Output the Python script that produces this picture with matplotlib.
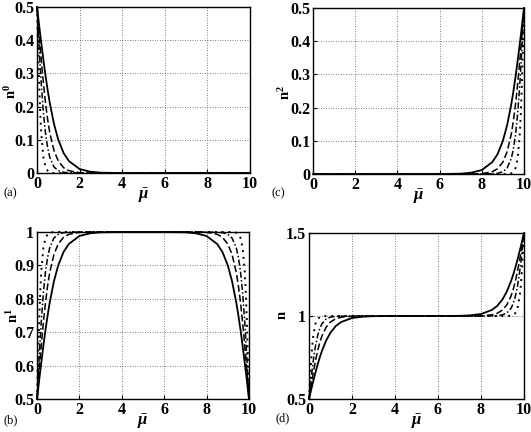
"""
Occupation numbers n^0, n^1, n^2 and total n versus reduced chemical
potential, four temperatures (solid = warmest ... dotted = coldest).
Values read off the reference figure.
"""

import matplotlib

matplotlib.use("Agg")
import matplotlib.pyplot as plt

plt.rcParams["font.family"] = ["Liberation Serif", "DejaVu Serif"]
plt.rcParams["mathtext.fontset"] = "custom"
plt.rcParams["mathtext.rm"] = "Liberation Serif:bold"
plt.rcParams["mathtext.it"] = "Liberation Serif:bold:italic"
plt.rcParams["mathtext.bf"] = "Liberation Serif:bold"

MU = [0, 0.05, 0.1, 0.15, 0.2, 0.3, 0.4, 0.5, 0.6, 0.8,
      1.0, 1.25, 1.5, 2.0, 2.5, 3.0, 4.0, 5.0, 6.0, 7.0,
      7.5, 8.0, 8.5, 8.75, 9.0, 9.2, 9.4, 9.5, 9.6, 9.7,
      9.8, 9.85, 9.9, 9.95, 10.0]

# panel (a): n^0
n0_t1 = [0.500, 0.473, 0.445, 0.418, 0.392, 0.341, 0.293, 0.250, 0.211, 0.147,
         0.100, 0.060, 0.036, 0.012, 0.004, 0.001, 0.000, 0.000, 0.000, 0.000,
         0.000, 0.000, 0.000, 0.000, 0.000, 0.000, 0.000, 0.000, 0.000, 0.000,
         0.000, 0.000, 0.000, 0.000, 0.000]
n0_t2 = [0.500, 0.459, 0.418, 0.379, 0.341, 0.271, 0.211, 0.161, 0.121, 0.067,
         0.036, 0.016, 0.007, 0.001, 0.000, 0.000, 0.000, 0.000, 0.000, 0.000,
         0.000, 0.000, 0.000, 0.000, 0.000, 0.000, 0.000, 0.000, 0.000, 0.000,
         0.000, 0.000, 0.000, 0.000, 0.000]
n0_t3 = [0.500, 0.438, 0.378, 0.321, 0.269, 0.182, 0.119, 0.076, 0.047, 0.018,
         0.007, 0.002, 0.001, 0.000, 0.000, 0.000, 0.000, 0.000, 0.000, 0.000,
         0.000, 0.000, 0.000, 0.000, 0.000, 0.000, 0.000, 0.000, 0.000, 0.000,
         0.000, 0.000, 0.000, 0.000, 0.000]
n0_t4 = [0.500, 0.378, 0.269, 0.182, 0.119, 0.047, 0.018, 0.007, 0.002, 0.000,
         0.000, 0.000, 0.000, 0.000, 0.000, 0.000, 0.000, 0.000, 0.000, 0.000,
         0.000, 0.000, 0.000, 0.000, 0.000, 0.000, 0.000, 0.000, 0.000, 0.000,
         0.000, 0.000, 0.000, 0.000, 0.000]

# panel (c): n^2
n2_t1 = [0.000, 0.000, 0.000, 0.000, 0.000, 0.000, 0.000, 0.000, 0.000, 0.000,
         0.000, 0.000, 0.000, 0.000, 0.000, 0.000, 0.000, 0.000, 0.000, 0.001,
         0.004, 0.012, 0.036, 0.060, 0.100, 0.147, 0.211, 0.250, 0.293, 0.341,
         0.392, 0.418, 0.445, 0.473, 0.500]
n2_t2 = [0.000, 0.000, 0.000, 0.000, 0.000, 0.000, 0.000, 0.000, 0.000, 0.000,
         0.000, 0.000, 0.000, 0.000, 0.000, 0.000, 0.000, 0.000, 0.000, 0.000,
         0.000, 0.001, 0.007, 0.016, 0.036, 0.067, 0.121, 0.161, 0.211, 0.271,
         0.341, 0.379, 0.418, 0.459, 0.500]
n2_t3 = [0.000, 0.000, 0.000, 0.000, 0.000, 0.000, 0.000, 0.000, 0.000, 0.000,
         0.000, 0.000, 0.000, 0.000, 0.000, 0.000, 0.000, 0.000, 0.000, 0.000,
         0.000, 0.000, 0.001, 0.002, 0.007, 0.018, 0.047, 0.076, 0.119, 0.182,
         0.269, 0.321, 0.378, 0.438, 0.500]
n2_t4 = [0.000, 0.000, 0.000, 0.000, 0.000, 0.000, 0.000, 0.000, 0.000, 0.000,
         0.000, 0.000, 0.000, 0.000, 0.000, 0.000, 0.000, 0.000, 0.000, 0.000,
         0.000, 0.000, 0.000, 0.000, 0.000, 0.000, 0.002, 0.007, 0.018, 0.047,
         0.119, 0.182, 0.269, 0.378, 0.500]

# panel (b): n^1
n1_t1 = [0.500, 0.527, 0.555, 0.582, 0.608, 0.659, 0.707, 0.750, 0.789, 0.853,
         0.900, 0.940, 0.964, 0.988, 0.996, 0.999, 1.000, 1.000, 1.000, 0.999,
         0.996, 0.988, 0.964, 0.940, 0.900, 0.853, 0.789, 0.750, 0.707, 0.659,
         0.608, 0.582, 0.555, 0.527, 0.500]
n1_t2 = [0.500, 0.541, 0.582, 0.621, 0.659, 0.729, 0.789, 0.839, 0.879, 0.933,
         0.964, 0.984, 0.993, 0.999, 1.000, 1.000, 1.000, 1.000, 1.000, 1.000,
         1.000, 0.999, 0.993, 0.984, 0.964, 0.933, 0.879, 0.839, 0.789, 0.729,
         0.659, 0.621, 0.582, 0.541, 0.500]
n1_t3 = [0.500, 0.562, 0.622, 0.679, 0.731, 0.818, 0.881, 0.924, 0.953, 0.982,
         0.993, 0.998, 0.999, 1.000, 1.000, 1.000, 1.000, 1.000, 1.000, 1.000,
         1.000, 1.000, 0.999, 0.998, 0.993, 0.982, 0.953, 0.924, 0.881, 0.818,
         0.731, 0.679, 0.622, 0.562, 0.500]
n1_t4 = [0.500, 0.622, 0.731, 0.818, 0.881, 0.953, 0.982, 0.993, 0.998, 1.000,
         1.000, 1.000, 1.000, 1.000, 1.000, 1.000, 1.000, 1.000, 1.000, 1.000,
         1.000, 1.000, 1.000, 1.000, 1.000, 1.000, 0.998, 0.993, 0.982, 0.953,
         0.881, 0.818, 0.731, 0.622, 0.500]

# panel (d): total n
n_t1 = [0.500, 0.527, 0.555, 0.582, 0.608, 0.659, 0.707, 0.750, 0.789, 0.853,
        0.900, 0.940, 0.964, 0.988, 0.996, 0.999, 1.000, 1.000, 1.000, 1.001,
        1.004, 1.012, 1.036, 1.060, 1.100, 1.147, 1.211, 1.250, 1.293, 1.341,
        1.392, 1.418, 1.445, 1.473, 1.500]
n_t2 = [0.500, 0.541, 0.582, 0.621, 0.659, 0.729, 0.789, 0.839, 0.879, 0.933,
        0.964, 0.984, 0.993, 0.999, 1.000, 1.000, 1.000, 1.000, 1.000, 1.000,
        1.000, 1.001, 1.007, 1.016, 1.036, 1.067, 1.121, 1.161, 1.211, 1.271,
        1.341, 1.379, 1.418, 1.459, 1.500]
n_t3 = [0.500, 0.562, 0.622, 0.679, 0.731, 0.818, 0.881, 0.924, 0.953, 0.982,
        0.993, 0.998, 0.999, 1.000, 1.000, 1.000, 1.000, 1.000, 1.000, 1.000,
        1.000, 1.000, 1.001, 1.002, 1.007, 1.018, 1.047, 1.076, 1.119, 1.182,
        1.269, 1.321, 1.378, 1.438, 1.500]
n_t4 = [0.500, 0.622, 0.731, 0.818, 0.881, 0.953, 0.982, 0.993, 0.998, 1.000,
        1.000, 1.000, 1.000, 1.000, 1.000, 1.000, 1.000, 1.000, 1.000, 1.000,
        1.000, 1.000, 1.000, 1.000, 1.000, 1.000, 1.002, 1.007, 1.018, 1.047,
        1.119, 1.182, 1.269, 1.378, 1.500]

X_TICKS = [0, 2, 4, 6, 8, 10]
LINE_STYLES = [
    dict(ls="-", lw=1.3),
    dict(ls=(0, (4.5, 2)), lw=1.1),
    dict(ls=(0, (4, 1.5, 1, 1.5)), lw=1.1),
    dict(ls=(0, (1, 2.5)), lw=1.4),
]

# rect, curves, ylim, yticks, yticklabels, ylabel, ylabel xy (axes), letter, letter xy (fig)
PANELS = [
    ((0.0697, 0.5995, 0.401, 0.3843), [n0_t1, n0_t2, n0_t3, n0_t4], (0, 0.5),
     [0, 0.1, 0.2, 0.3, 0.4, 0.5], ["0", "0.1", "0.2", "0.3", "0.4", "0.5"],
     r"$\mathrm{n}^{0}$", (-0.085, 0.49), "(a)", (0.006, 0.545)),
    ((0.5895, 0.5972, 0.3973, 0.3843), [n2_t1, n2_t2, n2_t3, n2_t4], (0, 0.5),
     [0, 0.1, 0.2, 0.3, 0.4, 0.5], ["0", "0.1", "0.2", "0.3", "0.4", "0.5"],
     r"$\mathrm{n}^{2}$", (-0.095, 0.49), "(c)", (0.512, 0.545)),
    ((0.0697, 0.0764, 0.3992, 0.3866), [n1_t1, n1_t2, n1_t3, n1_t4], (0.5, 1.0),
     [0.5, 0.6, 0.7, 0.8, 0.9, 1.0], ["0.5", "0.6", "0.7", "0.8", "0.9", "1"],
     r"$\mathrm{n}^{1}$", (-0.075, 0.50), "(b)", (0.006, 0.020)),
    ((0.5819, 0.0764, 0.4049, 0.3842), [n_t1, n_t2, n_t3, n_t4], (0.5, 1.5),
     [0.5, 1.0, 1.5], ["0.5", "1", "1.5"],
     r"$\mathrm{n}$", (-0.095, 0.505), "(d)", (0.518, 0.024)),
]


def main():
    fig = plt.figure(figsize=(5.31, 4.32), dpi=100)
    for rect, curves, ylim, yt, ytl, ylab, ylab_xy, letter, letter_xy in PANELS:
        ax = fig.add_axes(rect)
        for ys, st in zip(curves, LINE_STYLES):
            ax.plot(MU, ys, color="black", linestyle=st["ls"], lw=st["lw"],
                    clip_on=False, zorder=3)
        ax.set_xlim(0, 10)
        ax.set_ylim(*ylim)
        ax.set_xticks(X_TICKS, [str(t) for t in X_TICKS])
        ax.set_yticks(yt, ytl)
        ax.tick_params(direction="in", length=3, width=0.8, pad=2,
                       labelsize=11.5)
        for lbl in ax.get_xticklabels() + ax.get_yticklabels():
            lbl.set_fontweight("bold")
        ax.grid(True, color="#555555", linestyle=(0, (1, 2)), linewidth=0.6)
        for sp in ax.spines.values():
            sp.set_linewidth(1.0)
        ax.set_ylabel(ylab, fontsize=10.5, labelpad=0)
        ax.yaxis.set_label_coords(*ylab_xy)
        ax.set_xlabel(r"$\bar{\mu}$", fontsize=12, labelpad=-4)
        fig.text(letter_xy[0], letter_xy[1], letter, fontsize=9)
    fig.savefig("out.png", dpi=100)


if __name__ == "__main__":
    main()
